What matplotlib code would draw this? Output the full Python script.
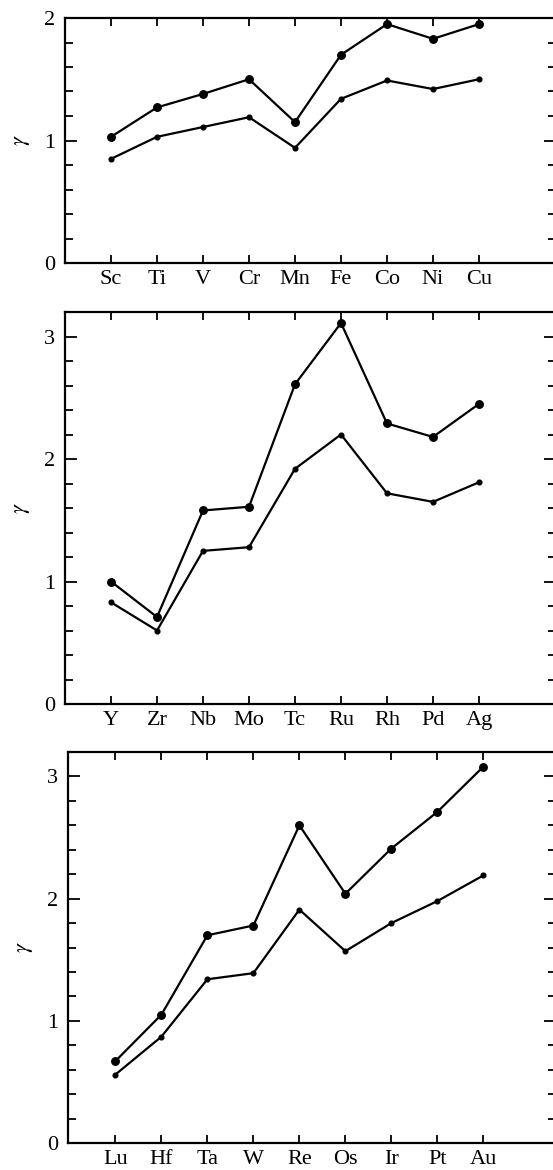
import matplotlib
matplotlib.use("Agg")
import matplotlib.pyplot as plt
from matplotlib.ticker import MultipleLocator, FixedLocator

plt.rcParams['font.family'] = ['Liberation Serif', 'DejaVu Serif']
plt.rcParams['mathtext.fontset'] = 'stix'

# Panel 1: 3d series
el_3d = ["Sc", "Ti", "V", "Cr", "Mn", "Fe", "Co", "Ni", "Cu"]
upper_3d = [1.03, 1.27, 1.38, 1.50, 1.15, 1.70, 1.95, 1.83, 1.95]
lower_3d = [0.85, 1.03, 1.11, 1.19, 0.94, 1.34, 1.49, 1.42, 1.50]

# Panel 2: 4d series
el_4d = ["Y", "Zr", "Nb", "Mo", "Tc", "Ru", "Rh", "Pd", "Ag"]
upper_4d = [1.00, 0.71, 1.58, 1.61, 2.61, 3.11, 2.29, 2.18, 2.45]
lower_4d = [0.83, 0.60, 1.25, 1.28, 1.92, 2.20, 1.72, 1.65, 1.81]

# Panel 3: 5d series
el_5d = ["Lu", "Hf", "Ta", "W", "Re", "Os", "Ir", "Pt", "Au"]
upper_5d = [0.67, 1.05, 1.70, 1.78, 2.60, 2.04, 2.41, 2.71, 3.08]
lower_5d = [0.56, 0.87, 1.34, 1.39, 1.91, 1.57, 1.80, 1.98, 2.19]

W, H = 553, 1170
fig = plt.figure(figsize=(W / 100, H / 100), dpi=100)

panels = [
    # (left px, bottom px, top px, right px, ymax, yticks, labels, upper, lower, xmin)
    (65, 263, 18, 556, 2.0, [0, 1, 2], el_3d, upper_3d, lower_3d, -1.0),
    (65, 704, 312, 556, 3.2, [0, 1, 2, 3], el_4d, upper_4d, lower_4d, -1.0),
    (68, 1143, 752, 556, 3.2, [0, 1, 2, 3], el_5d, upper_5d, lower_5d, -1.03),
]

for (lpx, bpx, tpx, rpx, ymax, yticks, labels, up, lo, xmin) in panels:
    ax = fig.add_axes([lpx / W, (H - bpx) / H, (rpx - lpx) / W, (bpx - tpx) / H])
    x = list(range(len(labels)))
    ax.plot(x, up, color='black', lw=1.6, marker='o', ms=5.4, zorder=3)
    ax.plot(x, lo, color='black', lw=1.6, marker='o', ms=3.4, zorder=3)
    ax.set_ylim(0, ymax)
    px_per = 46.0
    ax.set_xlim(xmin, xmin + (rpx - lpx) / px_per)
    ax.set_xticks(x)
    ax.set_xticklabels(labels)
    ax.yaxis.set_major_locator(FixedLocator(yticks))
    ax.yaxis.set_minor_locator(MultipleLocator(0.2))
    ax.tick_params(axis='both', which='both', direction='in', top=True, right=True,
                   width=1.3, colors='black', labelsize=16)
    ax.tick_params(axis='x', which='major', length=5.5, pad=5)
    ax.tick_params(axis='y', which='major', length=8.5, pad=7)
    ax.tick_params(axis='y', which='minor', length=5.5)
    ax.tick_params(axis='x', which='minor', bottom=False, top=False)
    for side in ['left', 'bottom', 'top']:
        ax.spines[side].set_linewidth(1.6)
    ax.spines['right'].set_visible(False)
    ax.set_ylabel(r'$\gamma$', fontsize=16, labelpad=9)

fig.savefig("out.png", dpi=100)
